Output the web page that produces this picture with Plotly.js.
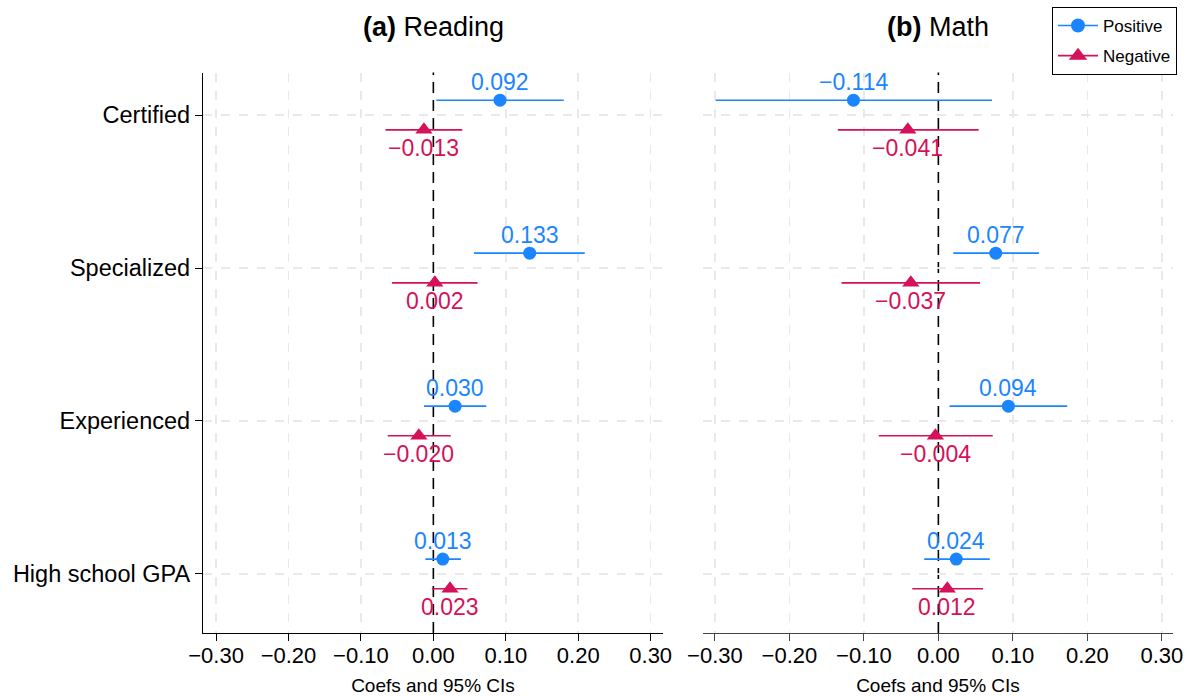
<!DOCTYPE html>
<html>
<head>
<meta charset="utf-8">
<script src="https://cdn.plot.ly/plotly-3.0.1.min.js"></script>
<style>html,body{margin:0;padding:0;background:#fff;}#chart{width:1192px;height:696px;}</style>
</head>
<body>
<div id="chart"></div>
<script>
// Categories (top to bottom)
const categories = ["Certified", "Specialized", "Experienced", "High school GPA"];
const panelTitles = ["<b>(a)</b> Reading", "<b>(b)</b> Math"];
const tickVals = [-0.3, -0.2, -0.1, 0, 0.1, 0.2, 0.3];
const gridVals = [-0.3, -0.2, -0.1, 0.1, 0.2, 0.3];

// Reading
const readPosCoef = [0.092, 0.133, 0.030, 0.013];
const readPosLo   = [0.004, 0.056, -0.013, -0.011];
const readPosHi   = [0.180, 0.209, 0.073, 0.038];
const readNegCoef = [-0.013, 0.002, -0.020, 0.023];
const readNegLo   = [-0.066, -0.057, -0.063, -0.002];
const readNegHi   = [0.040, 0.061, 0.024, 0.047];

// Math
const mathPosCoef = [-0.114, 0.077, 0.094, 0.024];
const mathPosLo   = [-0.299, 0.020, 0.015, -0.019];
const mathPosHi   = [0.072, 0.135, 0.173, 0.069];
const mathNegCoef = [-0.041, -0.037, -0.004, 0.012];
const mathNegLo   = [-0.135, -0.130, -0.080, -0.035];
const mathNegHi   = [0.054, 0.056, 0.073, 0.060];

const BLUE = "#1A85FF";
const RED = "#D41159";
const FONT = "Liberation Sans, Arial, Helvetica, sans-serif";
const OFF = 0.097;

function fmt(v) { return (v < 0 ? "\u2212" : "") + Math.abs(v).toFixed(3); }

function makeTrace(coef, lo, hi, color, symbol, size, dir, xa, ya) {
  return {
    type: "scatter",
    mode: "markers",
    x: coef,
    y: categories.map((c, i) => i + dir * OFF),
    marker: {color: color, symbol: symbol, size: size},
    error_x: {
      type: "data", symmetric: false,
      array: hi.map((h, i) => h - coef[i]),
      arrayminus: lo.map((l, i) => coef[i] - l),
      color: color, thickness: 1.6, width: 0
    },
    xaxis: xa, yaxis: ya,
    showlegend: false, hoverinfo: "skip", cliponaxis: false
  };
}

function makeLabels(coef, color, dir, xa, ya) {
  return coef.map((v, i) => ({
    text: fmt(v), x: v, y: i + dir * OFF, xref: xa, yref: ya,
    showarrow: false, xanchor: "center", yanchor: "middle",
    yshift: dir < 0 ? 18 : -18,
    font: {family: FONT, size: 23, color: color}
  }));
}

const traces = [
  makeTrace(readPosCoef, readPosLo, readPosHi, BLUE, "circle", 13, -1, "x", "y"),
  makeTrace(readNegCoef, readNegLo, readNegHi, RED, "triangle-up", 15, 1, "x", "y"),
  makeTrace(mathPosCoef, mathPosLo, mathPosHi, BLUE, "circle", 13, -1, "x2", "y2"),
  makeTrace(mathNegCoef, mathNegLo, mathNegHi, RED, "triangle-up", 15, 1, "x2", "y2"),
  {type: "scatter", mode: "lines+markers", x: [null], y: [null], name: "Positive", legendgroup: "p",
   line: {color: BLUE, width: 1.6}, marker: {color: BLUE, symbol: "circle", size: 14}, xaxis: "x", yaxis: "y"},
  {type: "scatter", mode: "lines+markers", x: [null], y: [null], name: "Negative", legendgroup: "n",
   line: {color: RED, width: 1.6}, marker: {color: RED, symbol: "triangle-up", size: 16}, xaxis: "x", yaxis: "y"}
];

const W = 1192, H = 696;
const yDom = [1 - 633 / H, 1 - 72.5 / H];
const xDom1 = [203 / W, 663 / W];
const xDom2 = [703 / W, 1173 / W];
const yRange = [3.386, -0.278];

function xAxis(dom, range, lineColor, anchor) {
  return {
    domain: dom, range: range, anchor: anchor,
    tickvals: tickVals, tickformat: ".2f",
    ticks: "outside", ticklen: 7, tickwidth: 1, tickcolor: lineColor,
    ticklabelstandoff: -5,
    showline: true, linecolor: lineColor, linewidth: 1.2,
    showgrid: false,
    minor: {tickvals: gridVals, showgrid: true, gridcolor: "#e9e9e9", gridwidth: 1.5, griddash: "dash", ticks: ""},
    zeroline: false,
    tickfont: {family: FONT, size: 22, color: "#000"},
    title: {text: "Coefs and 95% CIs", font: {family: FONT, size: 19, color: "#000"}, standoff: 12}
  };
}

const layout = {
  width: W, height: H,
  margin: {l: 0, r: 0, t: 0, b: 0},
  paper_bgcolor: "#fff", plot_bgcolor: "#fff",
  font: {family: FONT, color: "#000"},
  xaxis: xAxis(xDom1, [-0.318, 0.317], "#000", "y"),
  xaxis2: xAxis(xDom2, [-0.316, 0.315], "#444", "y2"),
  yaxis: {
    domain: yDom, range: yRange, anchor: "x",
    tickvals: [0, 1, 2, 3], ticktext: categories,
    ticks: "outside", ticklen: 7, tickcolor: "#000",
    showline: true, linecolor: "#000", linewidth: 1.2,
    showgrid: true, gridcolor: "#e9e9e9", gridwidth: 1.5, griddash: "dash",
    zeroline: false,
    tickfont: {family: FONT, size: 23.5, color: "#000"}
  },
  yaxis2: {
    domain: yDom, range: yRange, anchor: "x2",
    tickvals: [0, 1, 2, 3], showticklabels: false, ticks: "",
    showline: false,
    showgrid: true, gridcolor: "#e9e9e9", gridwidth: 1.5, griddash: "dash",
    zeroline: false
  },
  shapes: [
    {type: "line", xref: "x", yref: "y domain", x0: 0, x1: 0, y0: 0, y1: 1,
     line: {color: "#000", width: 1.6, dash: "11px,7px"}, layer: "below"},
    {type: "line", xref: "x2", yref: "y2 domain", x0: 0, x1: 0, y0: 0, y1: 1,
     line: {color: "#000", width: 1.6, dash: "11px,7px"}, layer: "below"}
  ],
  annotations: [
    {text: panelTitles[0], xref: "paper", yref: "paper", x: (xDom1[0] + xDom1[1]) / 2, y: 1 - 27 / H,
     xanchor: "center", yanchor: "middle", showarrow: false, font: {family: FONT, size: 27, color: "#000"}},
    {text: panelTitles[1], xref: "paper", yref: "paper", x: (xDom2[0] + xDom2[1]) / 2, y: 1 - 27 / H,
     xanchor: "center", yanchor: "middle", showarrow: false, font: {family: FONT, size: 27, color: "#000"}}
  ].concat(
    makeLabels(readPosCoef, BLUE, -1, "x", "y"),
    makeLabels(readNegCoef, RED, 1, "x", "y"),
    makeLabels(mathPosCoef, BLUE, -1, "x2", "y2"),
    makeLabels(mathNegCoef, RED, 1, "x2", "y2")
  ),
  legend: {
    x: 1052 / W, y: 1 - 7 / H, xanchor: "left", yanchor: "top",
    bordercolor: "#000", borderwidth: 1, bgcolor: "#fff",
    font: {family: FONT, size: 17, color: "#000"},
    itemwidth: 40, tracegroupgap: 5
  }
};

Plotly.newPlot("chart", traces, layout, {displayModeBar: false, staticPlot: true});
</script>
</body>
</html>
